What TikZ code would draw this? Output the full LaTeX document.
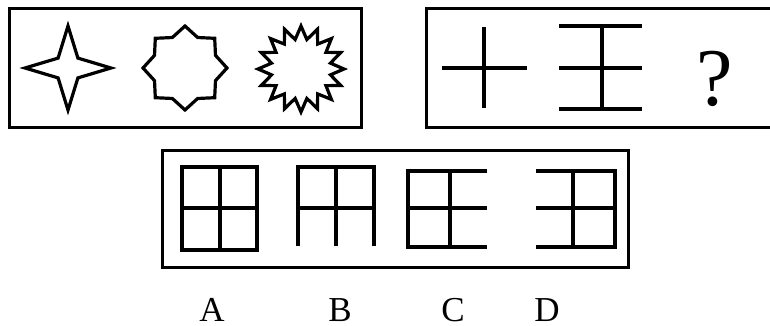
\documentclass[tikz,border=0pt]{standalone}
\usepackage{fontspec}
\setmainfont{Liberation Serif}
\begin{document}
\begin{tikzpicture}[x=1pt,y=-1pt,
  frame/.style={line width=3pt,line join=miter},
  fig/.style={line width=3.2pt,line join=miter,miter limit=20},
  bar/.style={line width=3.2pt},
  lbl/.style={inner sep=0pt,anchor=base,font=\fontsize{35}{35}\selectfont}]
\useasboundingbox (0,0) rectangle (770,326);
% frames
\draw[frame] (9,9) rectangle (361,127);
\draw[frame] (770,9) -- (426,9) -- (426,127) -- (770,127);
\draw[frame] (162,150) rectangle (628,267);
% stars
\coordinate (s1) at (68,68);
\coordinate (s2) at (185,68);
\coordinate (s3) at (301,69);
\draw[fig] (s1) +(0:43) -- +(45:14) -- +(90:42) -- +(135:14) -- +(180:43) -- +(225:14) -- +(270:42) -- +(315:14) -- cycle;
\draw[fig] (s2) +(67.5:33) \foreach \i in {0,...,6} { -- +(90+\i*45:42) -- +(112.5+\i*45:33)} -- +(405:42) -- cycle;
\draw[fig] (s3) +(78.75:30) \foreach \i in {0,...,14} { -- +(90+\i*22.5:43) -- +(101.25+\i*22.5:30)} -- +(427.5:43) -- cycle;
% cross and wang
\coordinate (c1) at (484,27); \coordinate (c2) at (484,108);
\coordinate (c3) at (442,68); \coordinate (c4) at (527,68);
\draw[bar] (c1) -- (c2); \draw[bar] (c3) -- (c4);
\coordinate (w1) at (602,26); \coordinate (w2) at (602,109);
\draw[bar] (w1) -- (w2);
\draw[bar] (559,26) -- (642,26);
\draw[bar] (559,68) -- (642,68);
\draw[bar] (559,109) -- (642,109);
\node[inner sep=0pt,anchor=base,font=\fontsize{82}{82}\selectfont] (q) at (715,106) {?};
% options
% A
\draw[bar,line join=miter] (182,167) rectangle (257,250);
\draw[bar] (220,167) -- (220,250);
\draw[bar] (182,208) -- (257,208);
% B
\draw[bar,line join=miter] (298,246) -- (298,167) -- (374,167) -- (374,246);
\draw[bar] (336,167) -- (336,246);
\draw[bar] (298,208) -- (374,208);
% C
\draw[bar,line join=miter] (487,171) -- (408,171) -- (408,247) -- (487,247);
\draw[bar] (450,171) -- (450,247);
\draw[bar] (408,208) -- (487,208);
% D
\draw[bar,line join=miter] (536,171) -- (615,171) -- (615,247) -- (536,247);
\draw[bar] (573,171) -- (573,247);
\draw[bar] (536,208) -- (615,208);
% labels
\node[lbl] (la) at (212,321) {A};
\node[lbl] (lb) at (340,321) {B};
\node[lbl] (lc) at (453,321) {C};
\node[lbl] (ld) at (547,321) {D};
\end{tikzpicture}
\end{document}
